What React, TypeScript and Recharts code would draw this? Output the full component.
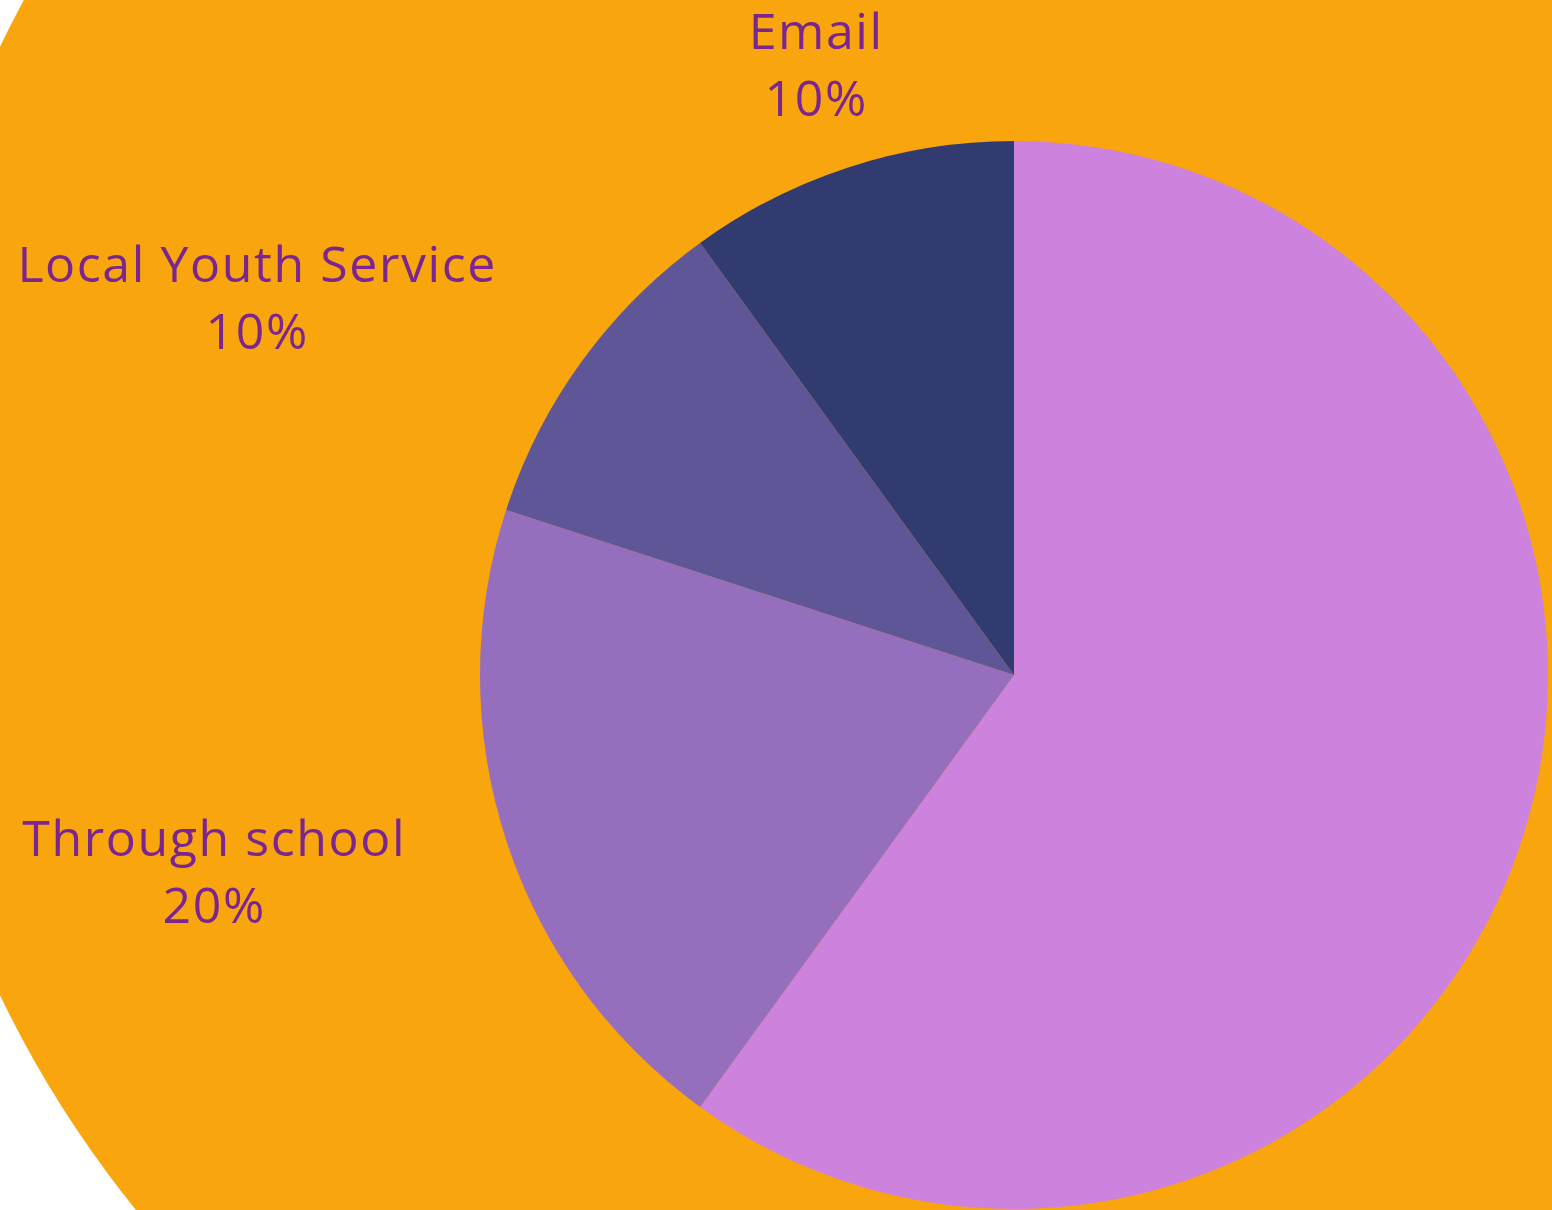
import { Cell, Pie, PieChart } from "recharts";

const channels = ["Other", "Through school", "Local Youth Service", "Email"];
const shares = [60, 20, 10, 10];
const colors = ["#CD82DD", "#966EBE", "#5F5698", "#313B70"];

const data = channels.map((name, i) => ({ name, value: shares[i] }));

const W = 1552;
const H = 1210;
const FONT = '"Open Sans", "Noto Sans", sans-serif';
const FONT_SIZE = 50;
const SPACING = 1.6;
const LABEL_COLOR = "#7A2590";

let ctx: CanvasRenderingContext2D | null = null;
const measure = (text: string) => {
  if (!ctx) ctx = document.createElement("canvas").getContext("2d");
  if (!ctx) return text.length * FONT_SIZE * 0.55;
  ctx.font = `400 ${FONT_SIZE}px ${FONT}`;
  return ctx.measureText(text).width + SPACING * (text.length - 1);
};

const RAD = Math.PI / 180;

const renderLabel = (props: any) => {
  const { cx, cy, midAngle, outerRadius, name, percent } = props;
  const r = outerRadius + 106;
  const cos = Math.cos(-midAngle * RAD);
  const x = cx + r * cos;
  const y = cy + r * Math.sin(-midAngle * RAD);
  if (x < 0 || x > W || y < 0 || y > H) return null;
  const w = measure(name);
  let centerX = x;
  if (cos < -0.4) centerX = x - w / 2;
  else if (cos > 0.4) centerX = x + w / 2;
  return (
    <text
      x={centerX}
      y={y}
      textAnchor="middle"
      fill={LABEL_COLOR}
      fontFamily={FONT}
      fontSize={FONT_SIZE}
      letterSpacing={SPACING}
    >
      <tspan x={centerX} y={y - 17}>{name}</tspan>
      <tspan x={centerX} y={y + 50}>{`${Math.round(percent * 100)}%`}</tspan>
    </text>
  );
};

export default function App() {
  return (
    <div style={{ position: "absolute", left: 0, top: 0, width: W, height: H, overflow: "hidden", background: "#fff" }}>
      <div
        style={{
          position: "absolute",
          left: 987 - 1095,
          top: 521 - 1095,
          width: 2190,
          height: 2190,
          borderRadius: "50%",
          background: "#F8A50E",
        }}
      />
      <div style={{ position: "absolute", left: 0, top: 0 }}>
        <PieChart width={W} height={H} margin={{ top: 0, right: 0, bottom: 0, left: 0 }}>
          <Pie
            data={data}
            dataKey="value"
            nameKey="name"
            cx={1014}
            cy={675}
            outerRadius={534}
            startAngle={90}
            endAngle={-270}
            stroke="none"
            label={renderLabel}
            labelLine={false}
            isAnimationActive={false}
          >
            {data.map((d, i) => (
              <Cell key={d.name} fill={colors[i]} />
            ))}
          </Pie>
        </PieChart>
      </div>
    </div>
  );
}
